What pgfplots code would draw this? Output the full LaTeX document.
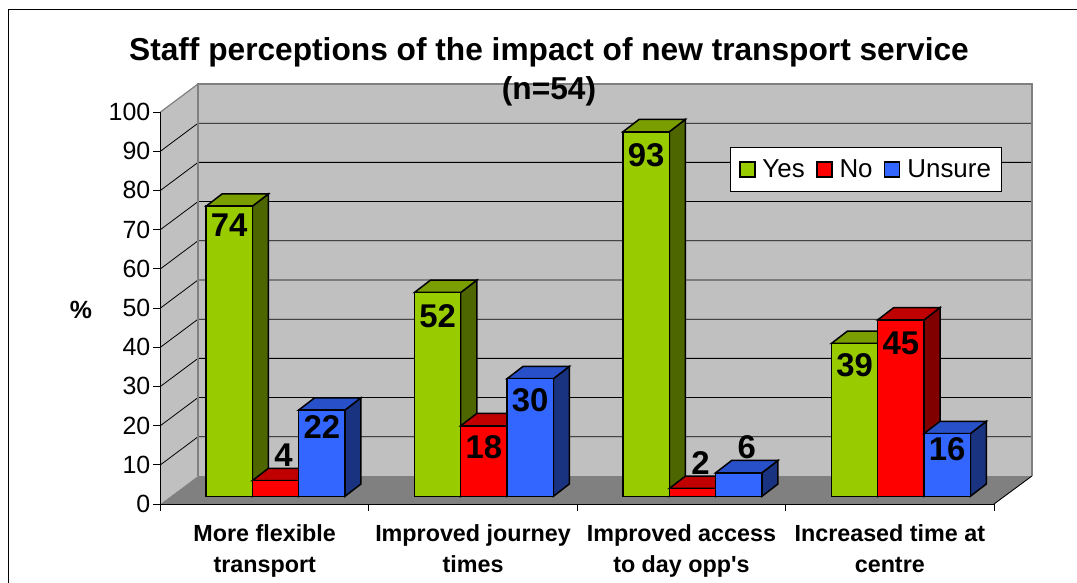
\documentclass[border=0pt]{standalone}
\usepackage{fontspec}
\setmainfont{Liberation Sans}
\usepackage{pgfplots}
\pgfplotsset{compat=1.18}

\definecolor{yesF}{HTML}{99CC00}\definecolor{yesS}{HTML}{4D6600}\definecolor{yesT}{HTML}{7A9E00}
\definecolor{noF}{HTML}{FF0000}\definecolor{noS}{HTML}{800000}\definecolor{noT}{HTML}{C00000}
\definecolor{unF}{HTML}{3366FF}\definecolor{unS}{HTML}{1A3380}\definecolor{unT}{HTML}{2850C8}
\definecolor{wall}{HTML}{C0C0C0}\definecolor{floorc}{HTML}{808080}

% depth of the chart box and of the bars, in axis units
\def\wallx{0.18}\def\wally{7.143}
\def\depx{0.0768}\def\depy{3.14}
\def\barbase{1.96}\def\barw{0.2222}

% #1 group centre, #2 position in group (-1,0,1), #3 value, #4 colour prefix
\newcommand{\threedbar}[4]{%
  \pgfmathsetmacro{\xa}{#1+(#2-0.5)*\barw}%
  \pgfmathsetmacro{\xb}{\xa+\barw}%
  \pgfmathsetmacro{\xc}{\xb+\depx}%
  \pgfmathsetmacro{\xd}{\xa+\depx}%
  \pgfmathsetmacro{\yt}{\barbase+#3}%
  \pgfmathsetmacro{\yu}{\yt+\depy}%
  \pgfmathsetmacro{\yv}{\barbase+\depy}%
  \addplot[fill=#4S,draw=black,line width=1.5bp,forget plot] coordinates {(\xb,\barbase)(\xc,\yv)(\xc,\yu)(\xb,\yt)} --cycle;
  \addplot[fill=#4T,draw=black,line width=1.5bp,forget plot] coordinates {(\xa,\yt)(\xb,\yt)(\xc,\yu)(\xd,\yu)} --cycle;
  \addplot[fill=#4F,draw=black,line width=1.5bp,forget plot] coordinates {(\xa,\barbase)(\xb,\barbase)(\xb,\yt)(\xa,\yt)} --cycle;
}
% #1 group centre, #2 position in group, #3 value, #4 x nudge, #5 y offset from bar top
\newcommand{\barlabel}[5]{%
  \pgfmathsetmacro{\lx}{#1+#2*\barw+#4}%
  \pgfmathsetmacro{\ly}{\barbase+#3+#5}%
  \addplot[draw=none,forget plot,point meta=explicit symbolic,nodes near coords,
    every node near coord/.append style={anchor=center,inner sep=0pt,yshift=0pt,
      font=\fontsize{33}{33}\selectfont\bfseries,text=black}]
    coordinates {(\lx,\ly)[#3]};
}
\newcommand{\gridline}[1]{%
  \pgfmathsetmacro{\ya}{#1+\wally}%
  \addplot[black,line width=0.8bp,forget plot] coordinates {(0,#1)(\wallx,\ya)(4.182,\ya)};
}

\begin{document}
\begin{tikzpicture}
\useasboundingbox (-160.5bp,-79bp) rectangle (916.5bp,504bp);
\begin{axis}[
    scale only axis,
    width=833.5bp,
    height=392bp,
    xmin=0, xmax=4,
    ymin=0, ymax=100,
    clip=false,
    axis on top,
    axis lines=left,
    axis line style={-,black,line width=0.9bp},
    tick align=outside,
    major tick length=7bp,
    tick style={black,line width=0.9bp},
    xtick={0,1,2,3,4},
    xticklabels={},
    extra x ticks={0.5,1.5,2.5,3.5},
    extra x tick style={major tick length=0pt},
    extra x tick labels={{More flexible\\transport},{Improved journey\\times},{Improved access\\to day opp\textquotesingle s},{Increased time at\\centre}},
    x tick label style={align=center,font=\fontsize{23.4}{32}\selectfont\bfseries,inner sep=0pt,yshift=-20bp},
    ytick={0,10,...,100},
    y tick label style={font=\fontsize{25}{25}\selectfont,/pgf/number format/assume math mode=true,inner sep=0pt,xshift=-3bp},
    ylabel={\%},
    y label style={rotate=-90,at={(axis description cs:-0.0954,0.495)},anchor=center,font=\fontsize{25}{25}\selectfont\bfseries},
    legend columns=3,
    legend style={at={(axis cs:2.734,79.7)},anchor=south west,draw=black,line width=1bp,fill=white,
      font=\fontsize{26}{26}\selectfont,inner xsep=8.5bp,inner ysep=10bp,
      /tikz/every even column/.append style={column sep=9.5bp},
      /tikz/every odd column/.append style={column sep=5bp}},
    legend image code/.code={\draw[#1,draw=black,line width=1.3bp] (0bp,-7.5bp) rectangle (15bp,7.5bp);},
]
% walls and floor
\addplot[fill=wall,draw=none,forget plot] coordinates {(0,0)(0.18,7.143)(0.18,107.143)(0,100)} --cycle;
\addplot[fill=wall,draw=none,forget plot] coordinates {(0.18,7.143)(4.182,7.143)(4.182,107.143)(0.18,107.143)} --cycle;
\addplot[fill=floorc,draw=none,forget plot] coordinates {(0,0)(4,0)(4.182,7.143)(0.18,7.143)} --cycle;
\pgfplotsinvokeforeach{10,20,...,90}{\gridline{#1}}
\addplot[floorc,line width=1.8bp,forget plot] coordinates {(0.18,7.143)(0.18,107.143)(4.182,107.143)(4.182,7.143)};
\addplot[floorc,line width=1.2bp,forget plot] coordinates {(0,100)(0.18,107.143)};
\addplot[black,line width=0.9bp,forget plot] coordinates {(4,0)(4.182,7.143)};
% bars
\threedbar{0.552}{-1}{74}{yes}
\threedbar{0.552}{0}{4}{no}
\threedbar{0.552}{1}{22}{un}
\threedbar{1.552}{-1}{52}{yes}
\threedbar{1.552}{0}{18}{no}
\threedbar{1.552}{1}{30}{un}
\threedbar{2.553}{-1}{93}{yes}
\threedbar{2.553}{0}{2}{no}
\threedbar{2.553}{1}{6}{un}
\threedbar{3.553}{-1}{39}{yes}
\threedbar{3.553}{0}{45}{no}
\threedbar{3.553}{1}{16}{un}
% value labels
\barlabel{0.552}{-1}{74}{0}{-4.9}
\barlabel{0.552}{0}{4}{0.038}{6.5}
\barlabel{0.552}{1}{22}{0}{-4.4}
\barlabel{1.552}{-1}{52}{0}{-6.1}
\barlabel{1.552}{0}{18}{0}{-5.4}
\barlabel{1.552}{1}{30}{0}{-5.6}
\barlabel{2.553}{-1}{93}{0}{-5.9}
\barlabel{2.553}{0}{2}{0.038}{6.5}
\barlabel{2.553}{1}{6}{0.038}{6.5}
\barlabel{3.553}{-1}{39}{0}{-5.5}
\barlabel{3.553}{0}{45}{0}{-6.1}
\barlabel{3.553}{1}{16}{0}{-4.1}
% legend
\addlegendimage{fill=yesF}\addlegendentry{Yes}
\addlegendimage{fill=noF}\addlegendentry{No}
\addlegendimage{fill=unF}\addlegendentry{Unsure}
\end{axis}
\node[font=\fontsize{31.8}{39}\selectfont\bfseries,align=center,anchor=center] at (388.5bp,432bp)
  {Staff perceptions of the impact of new transport service\\(n=54)};
\draw[black,line width=1bp] (-152bp,-79bp) -- (-152bp,494bp) -- (916.5bp,494bp);
\end{tikzpicture}
\end{document}
